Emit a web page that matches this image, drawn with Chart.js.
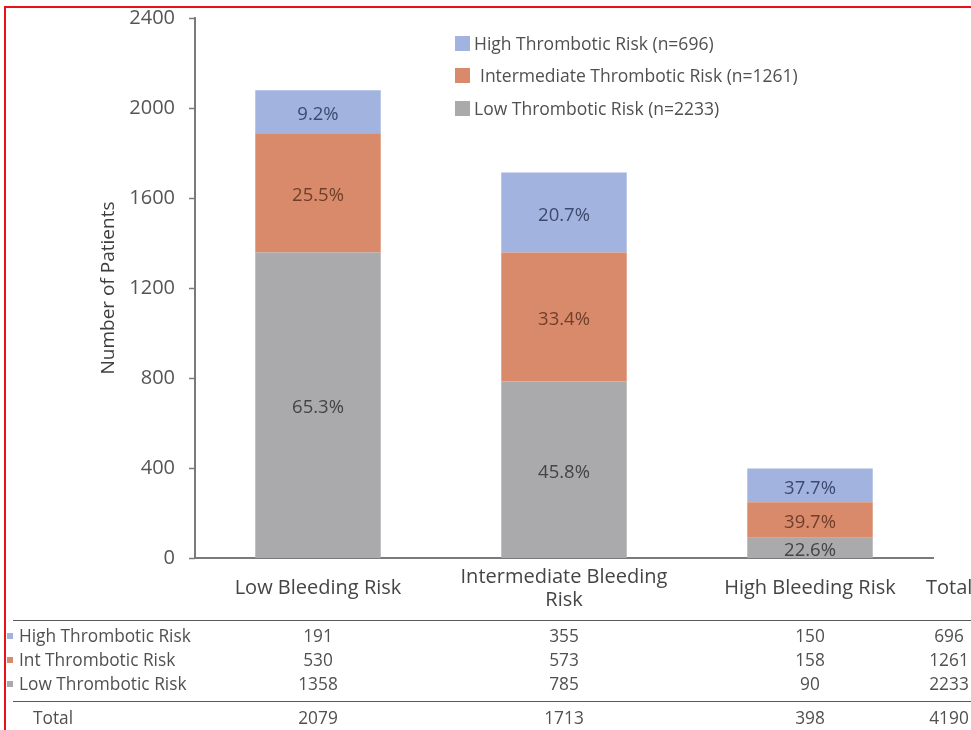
<!DOCTYPE html>
<html>
<head>
<meta charset="utf-8">
<script src="https://cdn.jsdelivr.net/npm/chart.js@4/dist/chart.umd.min.js"></script>
<style>
  html, body { margin: 0; padding: 0; background: #fff; }
  #wrap { position: relative; width: 971px; height: 730px; overflow: hidden; font-family: "Open Sans", sans-serif; color: #505050; }
  #frame { position: absolute; left: 4px; top: 6px; width: 980px; height: 740px; border-left: 2px solid #e8121b; border-top: 2px solid #e8121b; box-sizing: border-box; }
  canvas { position: absolute; left: 0; top: 0; }
  .t { position: absolute; white-space: nowrap; transform: translate(0, -50%); line-height: 1; }
  .c { transform: translate(-50%, -50%); }
  .rule { position: absolute; height: 0; border-top: 1.5px solid #5a5a5a; }
  .sw { position: absolute; }
</style>
</head>
<body>
<div id="wrap">
  <canvas id="chart" width="971" height="730"></canvas>
  <div id="overlay"></div>
  <div id="frame"></div>
</div>
<script>
// Bleeding-risk categories on the x axis
const categories = ['Low Bleeding Risk', ['Intermediate Bleeding', 'Risk'], 'High Bleeding Risk'];

// Patient counts per thrombotic-risk group, one value per bleeding-risk category
const highThrombotic = [191, 355, 150];
const intThrombotic  = [530, 573, 158];
const lowThrombotic  = [1358, 785, 90];

// Percentage shares printed inside each bar segment
const highPct = [9.2, 20.7, 37.7];
const intPct  = [25.5, 33.4, 39.7];
const lowPct  = [65.3, 45.8, 22.6];

// Y axis range and step
const yMin = 0, yMax = 2400, yStep = 400;

const tableRowNames = ['High Thrombotic Risk', 'Int Thrombotic Risk', 'Low Thrombotic Risk'];

const colors = { high: '#a3b3df', int: '#d98a6a', low: '#aaaaad' };
const textColors = { high: '#3c4a6e', int: '#6e3f2c', low: '#444444' };

const sum = a => a.reduce((s, v) => s + v, 0);
const colTotals = categories.map((_, i) => highThrombotic[i] + intThrombotic[i] + lowThrombotic[i]);
const grandTotal = sum(colTotals);

const datasets = [
  { label: 'Low Thrombotic Risk', data: lowThrombotic, backgroundColor: colors.low, pct: lowPct, txt: textColors.low },
  { label: 'Intermediate Thrombotic Risk', data: intThrombotic, backgroundColor: colors.int, pct: intPct, txt: textColors.int },
  { label: 'High Thrombotic Risk', data: highThrombotic, backgroundColor: colors.high, pct: highPct, txt: textColors.high }
];

// Writes the share percentage in the middle of every stacked segment
const segmentLabels = {
  id: 'segmentLabels',
  afterDatasetsDraw(chart) {
    const ctx = chart.ctx;
    ctx.save();
    ctx.font = '18.5px "Open Sans", sans-serif';
    ctx.textAlign = 'center';
    ctx.textBaseline = 'middle';
    chart.data.datasets.forEach((ds, di) => {
      const meta = chart.getDatasetMeta(di);
      meta.data.forEach((bar, i) => {
        const p = bar.getProps(['x', 'y', 'base'], true);
        ctx.fillStyle = ds.txt;
        ctx.fillText(ds.pct[i].toFixed(1) + '%', p.x, (p.y + p.base) / 2 + 3);
      });
    });
    ctx.restore();
  }
};

// Short outward tick marks on the value axis
const yTickMarks = {
  id: 'yTickMarks',
  afterDraw(chart) {
    const y = chart.scales.y;
    const ctx = chart.ctx;
    ctx.save();
    ctx.strokeStyle = '#7a7a7a';
    ctx.lineWidth = 1.5;
    y.ticks.forEach(t => {
      const py = Math.round(y.getPixelForValue(t.value)) + 0.5;
      ctx.beginPath();
      ctx.moveTo(y.right - 6, py);
      ctx.lineTo(y.right, py);
      ctx.stroke();
    });
    ctx.restore();
  }
};

const chart = new Chart(document.getElementById('chart'), {
  type: 'bar',
  data: { labels: categories, datasets },
  options: {
    responsive: false,
    animation: false,
    layout: { padding: { left: 0, right: 38, top: 18, bottom: 0 } },
    plugins: { legend: { display: false }, tooltip: { enabled: false } },
    datasets: { bar: { barPercentage: 0.51, categoryPercentage: 1.0, borderWidth: 0 } },
    scales: {
      x: {
        stacked: true,
        grid: { display: false, drawTicks: false },
        border: { display: true, color: '#7a7a7a', width: 2 },
        ticks: {
          color: '#454545',
          font: { family: '"Open Sans", sans-serif', size: 20, lineHeight: 1.15 },
          padding: 19,
          maxRotation: 0,
          autoSkip: false,
          crossAlign: 'center'
        },
        afterFit(scale) { scale.height = 172; }
      },
      y: {
        stacked: true,
        min: yMin, max: yMax,
        grid: { display: false },
        border: { display: true, color: '#7a7a7a', width: 2 },
        ticks: {
          stepSize: yStep,
          color: '#555555',
          font: { family: '"Open Sans", sans-serif', size: 20 },
          padding: 12,
          callback: v => String(v)
        },
        title: {
          display: true,
          text: 'Number of Patients',
          color: '#3e3e3e',
          font: { family: '"Open Sans", sans-serif', size: 19 },
          padding: { top: 97, bottom: 0 }
        },
        afterFit(scale) {
          scale.width = 195;
          scale.paddingTop = 0;
          scale.paddingBottom = 0;
        }
      }
    }
  },
  plugins: [segmentLabels, yTickMarks]
});

// Legend and summary table, laid out under and beside the plot
const overlay = document.getElementById('overlay');
function put(text, x, y, cls, style) {
  const d = document.createElement('div');
  d.className = 't ' + (cls || '');
  d.style.left = x + 'px';
  d.style.top = y + 'px';
  d.style.cssText += style || '';
  d.textContent = text;
  overlay.appendChild(d);
  return d;
}
function box(x, y, w, h, color) {
  const d = document.createElement('div');
  d.className = 'sw';
  d.style.cssText = `left:${x}px;top:${y}px;width:${w}px;height:${h}px;background:${color};`;
  overlay.appendChild(d);
}
function rule(x, y, w) {
  const d = document.createElement('div');
  d.className = 'rule';
  d.style.cssText = `left:${x}px;top:${y}px;width:${w}px;`;
  overlay.appendChild(d);
}

// Legend (high on top)
const legendItems = [
  { name: 'High Thrombotic Risk', n: sum(highThrombotic), color: colors.high, y: 44, dx: 0 },
  { name: 'Intermediate Thrombotic Risk', n: sum(intThrombotic), color: colors.int, y: 76, dx: 6 },
  { name: 'Low Thrombotic Risk', n: sum(lowThrombotic), color: colors.low, y: 109, dx: 0 }
];
legendItems.forEach(it => {
  box(455, it.y - 8, 15, 15, it.color);
  put(`${it.name} (n=${it.n})`, 474 + it.dx, it.y, '', 'font-size:17.5px;color:#505050;');
});

// Table
const xScale = chart.scales.x;
const colX = categories.map((_, i) => xScale.getPixelForValue(i));
const totalX = 949;
put('Total', 926, 587, '', 'font-size:20px;color:#454545;');

rule(13, 620, 960);
const rows = [
  { name: tableRowNames[0], vals: highThrombotic, color: colors.high, y: 636 },
  { name: tableRowNames[1], vals: intThrombotic, color: colors.int, y: 660 },
  { name: tableRowNames[2], vals: lowThrombotic, color: colors.low, y: 684 }
];
const cellStyle = 'font-size:17.3px;color:#505050;';
rows.forEach(r => {
  box(7, r.y - 3, 6, 6, r.color);
  put(r.name, 19, r.y, '', cellStyle);
  r.vals.forEach((v, i) => put(String(v), colX[i], r.y, 'c', cellStyle));
  put(String(sum(r.vals)), totalX, r.y, 'c', cellStyle);
});
rule(13, 701, 960);
put('Total', 33, 718, '', cellStyle);
colTotals.forEach((v, i) => put(String(v), colX[i], 718, 'c', cellStyle));
put(String(grandTotal), totalX, 718, 'c', cellStyle);
</script>
</body>
</html>
